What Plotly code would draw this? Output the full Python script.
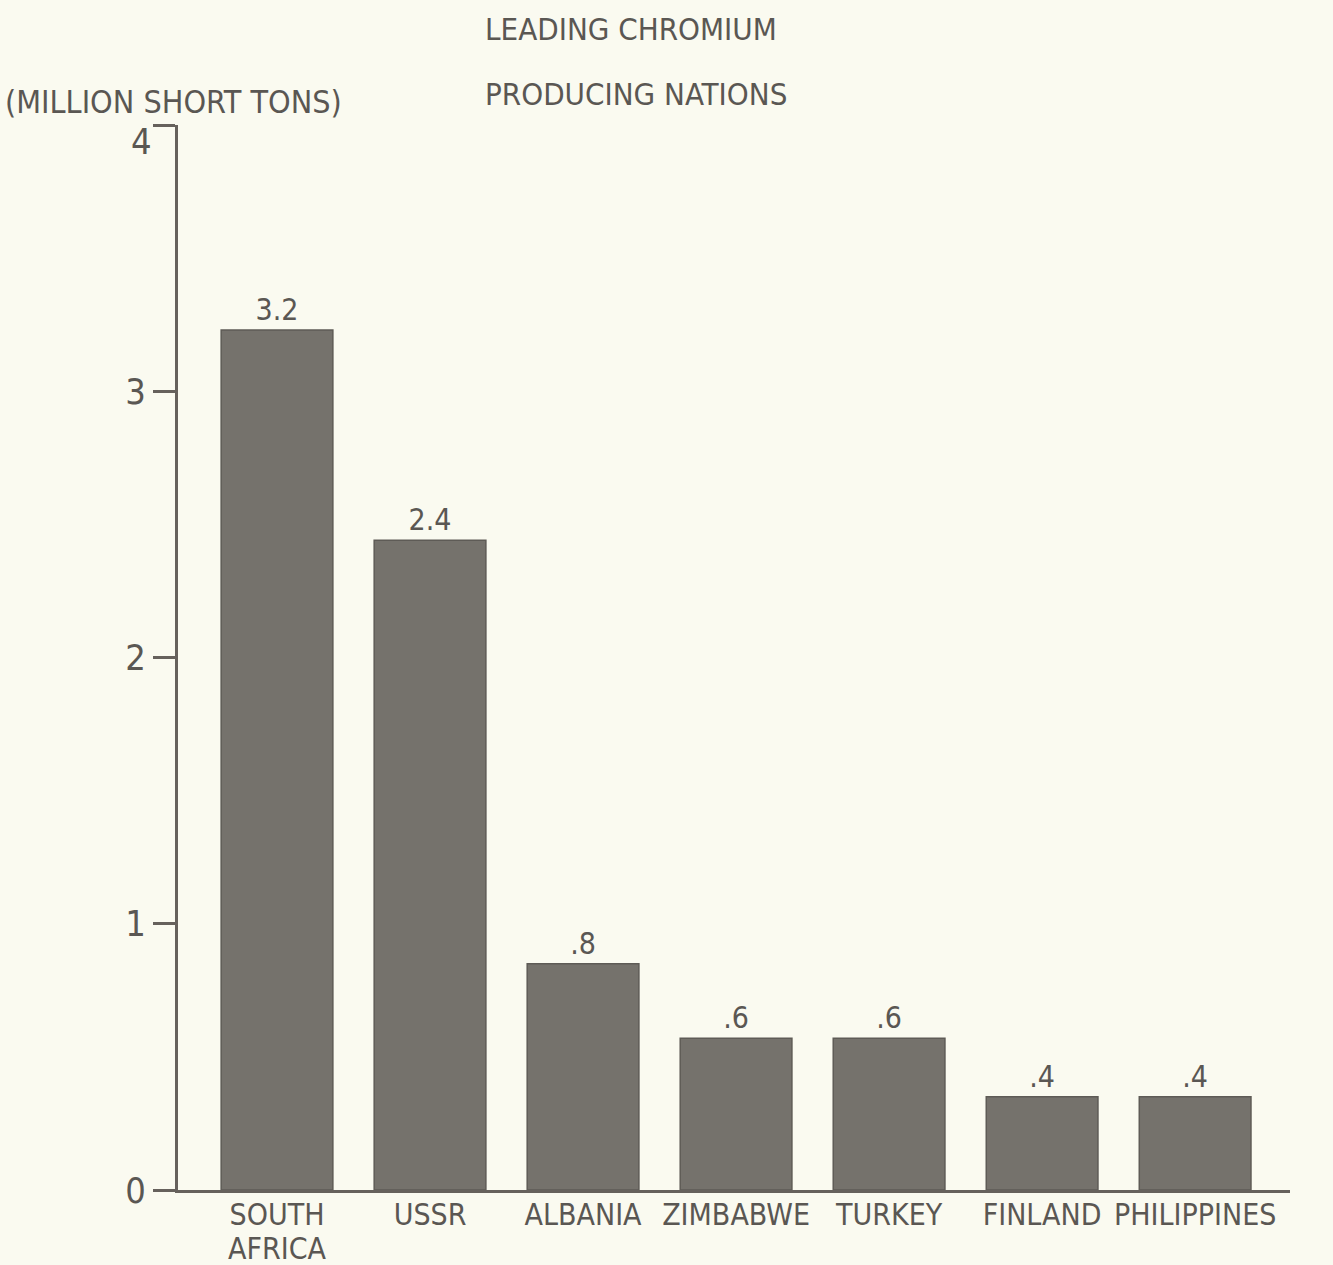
import plotly.graph_objects as go

countries = ["SOUTH", "USSR", "ALBANIA", "ZIMBABWE", "TURKEY", "FINLAND", "PHILIPPINES"]
country_second_line = ["AFRICA", "", "", "", "", "", ""]
value_labels = ["3.2", "2.4", ".8", ".6", ".6", ".4", ".4"]
bar_heights = [3.23, 2.44, 0.85, 0.57, 0.57, 0.35, 0.35]
y_ticks = [0, 1, 2, 3, 4]

FONT = "Liberation Sans Narrow, DejaVu Sans Condensed, Arial Narrow, sans-serif"
TXT = "#5a5753"
AX = "#66615c"
BG = "#fafaf0"

W, H = 1333, 1265
L, R, T, B = 178, 43, 125, 75
pw, ph = W - L - R, H - T - B

def px_x(p):
    return (p - L) / pw

def px_y(p):
    return (H - B - p) / ph

fig = go.Figure()
fig.add_trace(go.Bar(
    x=list(range(len(countries))),
    y=bar_heights,
    text=value_labels,
    textposition="outside",
    textfont=dict(family=FONT, size=30, color=TXT),
    cliponaxis=False,
    marker=dict(color="#75726c", line=dict(color="#5e5b56", width=1.5)),
    width=0.73,
    hoverinfo="skip",
))

annotations = [
    dict(text="LEADING CHROMIUM", xref="paper", yref="paper",
         x=px_x(483), y=px_y(29), xanchor="left", yanchor="middle",
         showarrow=False, font=dict(family=FONT, size=31, color=TXT)),
    dict(text="PRODUCING NATIONS", xref="paper", yref="paper",
         x=px_x(483), y=px_y(94), xanchor="left", yanchor="middle",
         showarrow=False, font=dict(family=FONT, size=31, color=TXT)),
    dict(text="(MILLION SHORT TONS)", xref="paper", yref="paper",
         x=px_x(3), y=px_y(102), xanchor="left", yanchor="middle",
         showarrow=False, font=dict(family=FONT, size=32, color=TXT)),
    # top tick label sits just below its tick in the reference
    dict(text=str(y_ticks[-1]), xref="paper", yref="paper",
         x=px_x(154), y=px_y(141), xanchor="right", yanchor="middle",
         showarrow=False, font=dict(family=FONT, size=36, color=TXT)),
]
for i, t in enumerate(country_second_line):
    if t:
        annotations.append(dict(
            text=t, xref="x", yref="paper", x=i, y=px_y(1248),
            xanchor="center", yanchor="middle", showarrow=False,
            font=dict(family=FONT, size=30, color=TXT)))

fig.update_layout(
    width=W, height=H,
    margin=dict(l=L, r=R, t=T, b=B, autoexpand=False),
    paper_bgcolor=BG, plot_bgcolor=BG,
    showlegend=False,
    font=dict(family=FONT, color=TXT),
    xaxis=dict(
        range=[-0.647, 6.62],
        tickmode="array",
        tickvals=list(range(len(countries))),
        ticktext=countries,
        tickfont=dict(family=FONT, size=30, color=TXT),
        ticklabelstandoff=-4,
        showline=True, linecolor=AX, linewidth=3,
        ticks="", showgrid=False, zeroline=False,
        automargin=False,
        fixedrange=True,
    ),
    yaxis=dict(
        range=[0, 4],
        tickmode="array",
        tickvals=y_ticks,
        ticktext=[str(v) for v in y_ticks[:-1]] + [""],
        tickfont=dict(family=FONT, size=36, color=TXT),
        showline=True, linecolor=AX, linewidth=3,
        ticks="outside", ticklen=22, tickwidth=3, tickcolor=AX,
        showgrid=False, zeroline=False,
        automargin=False,
        fixedrange=True,
    ),
    annotations=annotations,
)

fig.write_html(
    "out.html",
    config={"displayModeBar": False},
    post_script="document.body.style.margin='0';document.body.style.background='#fafaf0';",
)
